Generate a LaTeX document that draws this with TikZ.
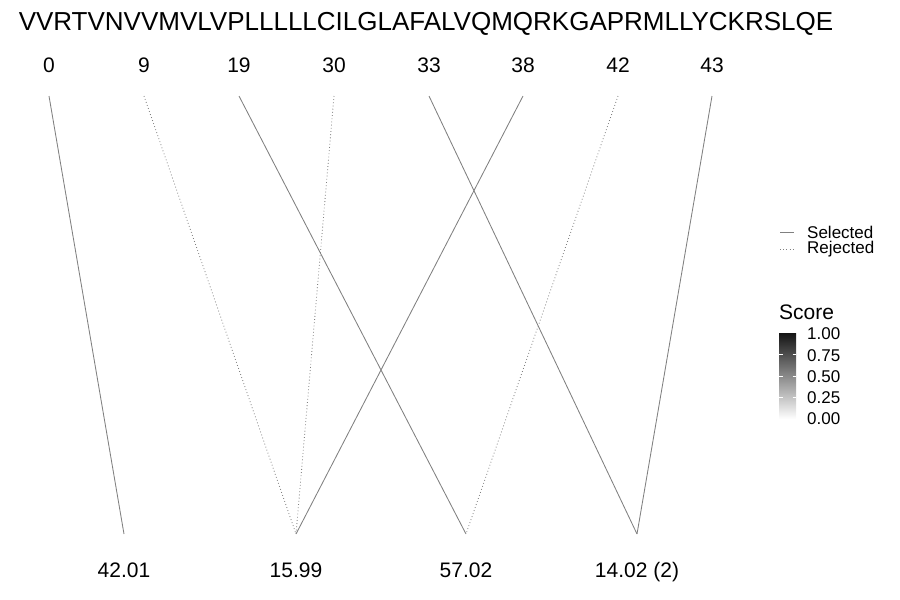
\documentclass[tikz,border=0pt]{standalone}
\usepackage{fontspec}
\setmainfont{Liberation Sans}
\begin{document}
\begin{tikzpicture}[x=1pt,y=-1pt,
  lbl/.style={inner sep=0pt, anchor=base, font=\fontsize{21}{21}\selectfont},
  seqlbl/.style={inner sep=0pt, anchor=base, font=\fontsize{26}{26}\selectfont},
  legtxt/.style={inner sep=0pt, anchor=west, font=\fontsize{17}{17}\selectfont},
  sel/.style={draw=black!50, line width=0.85pt},
  rej/.style={draw=black!50, line width=0.85pt, dash pattern=on 0.8pt off 2.4pt},
  tick/.style={draw=white, line width=0.6pt}]
\useasboundingbox (0,0) rectangle (900,600);
% sequence
\node[seqlbl] (seq) at (426,30) {VVRTVNVVMVLVPLLLLLCILGLAFALVQMQRKGAPRMLLYCKRSLQE};
% top labels
\foreach \n/\x/\t in {a/49/0, b/144/9, c/239/19, d/334/30, e/429/33, f/523/38, g/618/42, h/712/43}{
  \node[lbl] (L\n) at (\x,72) {\t};
  \coordinate (T\n) at (\x,96);
}
% bottom labels
\foreach \n/\x/\t in {a/124/42.01, b/296/15.99, c/466/57.02, d/637/14.02 (2)}{
  \node[lbl] (B\n) at (\x,577) {\t};
  \coordinate (E\n) at (\x,534);
}
% connectors
\draw[sel] (Ta) -- (Ea);
\draw[rej] (Tb) -- (Eb);
\draw[sel] (Tc) -- (Ec);
\draw[rej] (Td) -- (Eb);
\draw[sel] (Te) -- (Ed);
\draw[sel] (Tf) -- (Eb);
\draw[rej] (Tg) -- (Ec);
\draw[sel] (Th) -- (Ed);
% linetype legend
\coordinate (k1a) at (780,232); \coordinate (k1b) at (794,232);
\coordinate (k2a) at (780,249); \coordinate (k2b) at (794,249);
\draw[sel] (k1a) -- (k1b);
\draw[rej] (k2a) -- (k2b);
\node[legtxt] (ksel) at (807,232) {Selected};
\node[legtxt] (krej) at (807,249) {Rejected};
% score legend
\node[legtxt, font=\fontsize{21}{21}\selectfont] (score) at (779,312) {Score};
\shade[bottom color=white, top color=black!92] (779,333) rectangle (796,419);
\foreach \v/\y in {1.00/334, 0.75/355.5, 0.50/376.5, 0.25/397.5, 0.00/419}{
  \node[legtxt] at (807,\y) {\v};
}
\foreach \y in {354.5, 376, 397.5}{
  \draw[tick] (779,\y) -- (782.5,\y);
  \draw[tick] (792.5,\y) -- (796,\y);
}
\end{tikzpicture}
\end{document}
